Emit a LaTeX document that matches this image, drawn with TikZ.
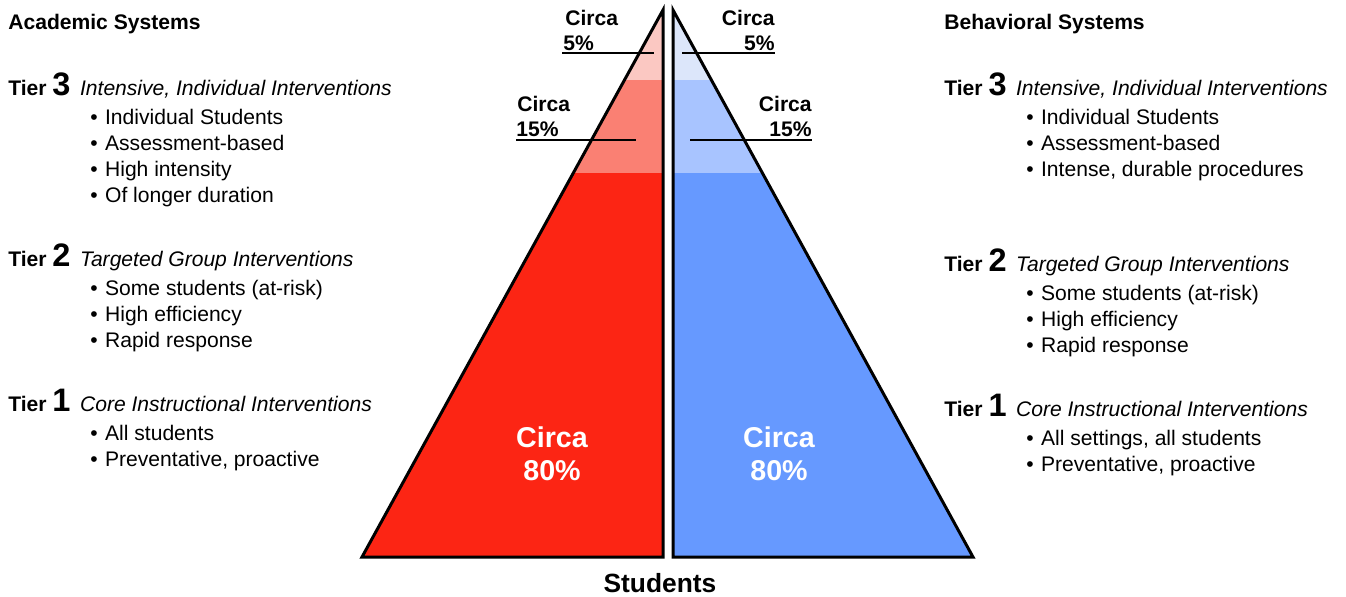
\documentclass[tikz,border=0pt]{standalone}
\usepackage{fontspec}
\setmainfont{Liberation Sans}
\definecolor{redA}{RGB}{251,200,194}
\definecolor{redB}{RGB}{250,128,115}
\definecolor{redC}{RGB}{252,37,20}
\definecolor{bluA}{RGB}{220,230,250}
\definecolor{bluB}{RGB}{168,196,255}
\definecolor{bluC}{RGB}{102,153,255}
\tikzset{
  txt/.style={inner sep=0pt, anchor=base west, font=\fontsize{12}{14}\selectfont},
  txtr/.style={inner sep=0pt, anchor=base east, font=\fontsize{12}{14}\selectfont\bfseries},
  circa/.style={inner sep=0pt, anchor=base west, font=\fontsize{12}{14}\selectfont\bfseries},
  big/.style={inner sep=0pt, anchor=base, text=white, font=\fontsize{16.3}{18}\selectfont\bfseries},
  outline/.style={draw=black, line width=1.7pt, line join=miter},
  leader/.style={draw=black, line width=1.1pt}
}
\newcommand{\tierline}[2]{\textbf{Tier} {\fontsize{18.5}{18}\selectfont\bfseries #1}\hspace{0.45em}\textit{#2}}
\newcommand{\bul}{\textbullet\hspace{0.35em}}
\begin{document}
\begin{tikzpicture}[x=0.02cm,y=-0.02cm]
\useasboundingbox (0,0) rectangle (1346,596);
% left pyramid
\begin{scope}
\clip (663,10) -- (362,557) -- (663,557) -- cycle;
\fill[redA] (300,0) rectangle (670,80);
\fill[redB] (300,80) rectangle (670,173);
\fill[redC] (300,173) rectangle (670,560);
\end{scope}
\path[outline] (663,10) -- (362,557) -- (663,557) -- cycle;
% right pyramid
\begin{scope}
\clip (673,10) -- (973,557) -- (673,557) -- cycle;
\fill[bluA] (665,0) rectangle (1000,80);
\fill[bluB] (665,80) rectangle (1000,173);
\fill[bluC] (665,173) rectangle (1000,560);
\end{scope}
\path[outline] (673,10) -- (973,557) -- (673,557) -- cycle;
% leader lines
\coordinate (l5a) at (562,53); \coordinate (l5b) at (654,53);
\coordinate (r5a) at (682,53); \coordinate (r5b) at (775,53);
\coordinate (l15a) at (516,140); \coordinate (l15b) at (636,140);
\coordinate (r15a) at (690,140); \coordinate (r15b) at (812,140);
\draw[leader] (l5a) -- (l5b);
\draw[leader] (r5a) -- (r5b);
\draw[leader] (l15a) -- (l15b);
\draw[leader] (r15a) -- (r15b);
% percentage labels
\node[circa] (lc5) at (565,25.5) {Circa};
\node[circa] (lp5) at (563,50.5) {5\%};
\node[txtr] (rc5) at (775,25.5) {Circa};
\node[txtr] (rp5) at (775,50.5) {5\%};
\node[circa] (lc15) at (517,111.5) {Circa};
\node[circa] (lp15) at (516,136.5) {15\%};
\node[txtr] (rc15) at (812,111.5) {Circa};
\node[txtr] (rp15) at (812,136.5) {15\%};
\node[big] (lc80) at (552,447) {Circa};
\node[big] (lp80) at (552,480) {80\%};
\node[big] (rc80) at (779,447) {Circa};
\node[big] (rp80) at (779,480) {80\%};
\node[inner sep=0pt, anchor=base, font=\fontsize{15}{18}\selectfont\bfseries] (stu) at (660,592) {Students};
% left text
\node[txt, font=\fontsize{12}{14}\selectfont\bfseries] (acad) at (8,29) {Academic Systems};
\node[txt] (lt3) at (8,95) {\tierline{3}{Intensive, Individual Interventions}};
\node[txt] (lt3a) at (90,124.5) {\bul Individual Students};
\node[txt] (lt3b) at (90,150.5) {\bul Assessment-based};
\node[txt] (lt3c) at (90,176.5) {\bul High intensity};
\node[txt] (lt3d) at (90,202.5) {\bul Of longer duration};
\node[txt] (lt2) at (8,266) {\tierline{2}{Targeted Group Interventions}};
\node[txt] (lt2a) at (90,295.5) {\bul Some students (at-risk)};
\node[txt] (lt2b) at (90,321.5) {\bul High efficiency};
\node[txt] (lt2c) at (90,347.5) {\bul Rapid response};
\node[txt] (lt1) at (8,411) {\tierline{1}{Core Instructional Interventions}};
\node[txt] (lt1a) at (90,440.5) {\bul All students};
\node[txt] (lt1b) at (90,466.5) {\bul Preventative, proactive};
% right text
\node[txt, font=\fontsize{12}{14}\selectfont\bfseries] (beh) at (944,29) {Behavioral Systems};
\node[txt] (rt3) at (944,95) {\tierline{3}{Intensive, Individual Interventions}};
\node[txt] (rt3a) at (1026,124.5) {\bul Individual Students};
\node[txt] (rt3b) at (1026,150.5) {\bul Assessment-based};
\node[txt] (rt3c) at (1026,176.5) {\bul Intense, durable procedures};
\node[txt] (rt2) at (944,271) {\tierline{2}{Targeted Group Interventions}};
\node[txt] (rt2a) at (1026,300.5) {\bul Some students (at-risk)};
\node[txt] (rt2b) at (1026,326.5) {\bul High efficiency};
\node[txt] (rt2c) at (1026,352.5) {\bul Rapid response};
\node[txt] (rt1) at (944,416) {\tierline{1}{Core Instructional Interventions}};
\node[txt] (rt1a) at (1026,445.5) {\bul All settings, all students};
\node[txt] (rt1b) at (1026,471.5) {\bul Preventative, proactive};
\end{tikzpicture}
\end{document}
